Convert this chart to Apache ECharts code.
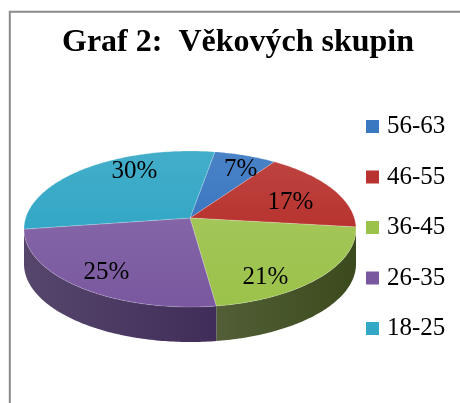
<!DOCTYPE html>
<html>
<head>
<meta charset="utf-8">
<script src="https://cdn.jsdelivr.net/npm/echarts@6/dist/echarts.min.js"></script>
<style>
    html, body { margin: 0; padding: 0; background: #fff; }
    #pie-3d { width: 460px; height: 403px; }
</style>
</head>
<body>
<div id="pie-3d"></div>
<script>
// Data
const ageGroups = ['56-63', '46-55', '36-45', '26-35', '18-25'];
const shares = [7, 17, 21, 25, 30];

// Office-like colors: top face / side wall
const topColors = ['#3b78c2', '#b8332f', '#9bc24a', '#7a58a0', '#33a7c6'];
const sideColors = ['#1f3f66', '#5e1a18', '#3b4a1c', '#402d59', '#1b5d6e'];

const serif = "'Liberation Serif', 'Times New Roman', serif";
const total = shares.reduce((a, b) => a + b, 0);

// tilted pie geometry (fake perspective: back compressed, front stretched)
const geo = {
    cx: 190, cy: 229, rx: 166, ry: 78, depth: 35, apexLift: 11,
    startAngle: 10, warp: 8,
    labelTurn: 8, labelRx: 0.66, labelRy: 0.86
};
const rad = d => d * Math.PI / 180;
const warp = t => t - geo.warp * Math.sin(rad(t));
const rim = (phi, dy) => [geo.cx + geo.rx * Math.sin(rad(phi)), geo.cy - geo.ry * Math.cos(rad(phi)) + (dy || 0)];

function arc(p0, p1, dy) {
    let pts = [];
    let n = Math.max(2, Math.ceil(Math.abs(p1 - p0)));
    for (let k = 0; k <= n; k++) pts.push(rim(p0 + (p1 - p0) * k / n, dy));
    return pts;
}

function renderSlice(idx) {
    return function (params, api) {
        let before = shares.slice(0, idx).reduce((a, b) => a + b, 0);
        let t0 = geo.startAngle + 360 * before / total;
        let t1 = t0 + 360 * api.value(0) / total;
        let p0 = warp(t0), p1 = warp(t1);
        let children = [];

        // top face
        let topPts = [[geo.cx, geo.cy - geo.apexLift]].concat(arc(p0, p1));
        children.push({
            type: 'polygon',
            z2: 10,
            shape: { points: topPts },
            style: {
                fill: new echarts.graphic.LinearGradient(0, 0, 0, 1, [
                    { offset: 0, color: echarts.color.lift(topColors[idx], 0.08) },
                    { offset: 1, color: topColors[idx] }
                ]),
                stroke: 'rgba(255,255,255,0.25)',
                lineWidth: 0.8
            }
        });

        // front wall (only where the rim faces the viewer)
        let s0 = Math.max(p0, 90), s1 = Math.min(p1, 270);
        if (s1 > s0) {
            let sidePts = arc(s0, s1).concat(arc(s1, s0, geo.depth));
            children.push({
                type: 'polygon',
                z2: 0,
                shape: { points: sidePts },
                style: {
                    fill: new echarts.graphic.LinearGradient(0, 0, 1, 0, [
                        { offset: 0, color: echarts.color.lift(sideColors[idx], 0.12) },
                        { offset: 1, color: sideColors[idx] }
                    ])
                }
            });
        }

        // percent label
        let pm = warp((t0 + t1) / 2) + geo.labelTurn;
        children.push({
            type: 'text',
            z2: 20,
            style: {
                text: Math.round(api.value(0) / total * 100) + '%',
                x: geo.cx + geo.rx * geo.labelRx * Math.sin(rad(pm)),
                y: geo.cy - geo.ry * geo.labelRy * Math.cos(rad(pm)),
                align: 'center',
                verticalAlign: 'middle',
                fill: '#000',
                font: '25px ' + serif
            }
        });
        return { type: 'group', children: children };
    };
}

let pieChart = echarts.init(document.getElementById('pie-3d'));
let option = {
    animation: false,
    color: topColors,

    title: {
        text: 'Graf 2:  Věkových skupin',
        left: 57,
        top: 22,
        textStyle: {
            fontFamily: serif,
            fontSize: 32,
            fontWeight: 'bold',
            color: '#000'
        }
    },

    legend: {
        orient: 'vertical',
        left: 361,
        top: 109,
        icon: 'rect',
        itemWidth: 13,
        itemHeight: 13,
        itemGap: 25.5,
        data: ageGroups,
        textStyle: {
            fontFamily: serif,
            fontSize: 25,
            lineHeight: 24,
            color: '#000',
            padding: [0, 0, 0, 3]
        }
    },

    // chart frame
    graphic: [{
        type: 'rect',
        shape: { x: 9.8, y: 11.8, width: 700, height: 700 },
        style: { fill: null, stroke: '#8a8a8a', lineWidth: 2 },
        silent: true
    }],

    series: ageGroups.map((name, i) => ({
        name: name,
        type: 'custom',
        coordinateSystem: 'none',
        renderItem: renderSlice(i),
        data: [shares[i]]
    }))
};
pieChart.setOption(option);
</script>
</body>
</html>
